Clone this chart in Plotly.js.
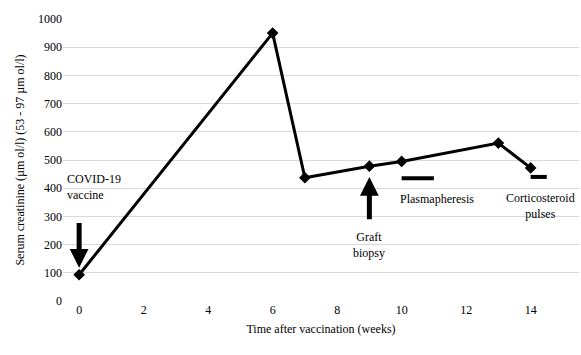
<!DOCTYPE html>
<html><head><meta charset="utf-8">
<script src="https://cdn.plot.ly/plotly-3.0.1.min.js"></script>
<style>body{margin:0;background:#fff}#c{width:581px;height:355px}</style>
</head><body><div id="c"></div>
<script>
const weeks = [0, 6, 7, 9, 10, 13, 14];
const creatinine = [93, 950, 437, 478, 495, 560, 472];
const xTicks = [0, 2, 4, 6, 8, 10, 12, 14];
const yTicks = [0, 100, 200, 300, 400, 500, 600, 700, 800, 900, 1000];

// event arrows: [x, tip y, tail y]
const arrowX = [0, 9];
const arrowTip = [118, 440];
const arrowTail = [282, 285];
// treatment bars
const barStart = [10, 14];
const barEnd = [11, 14.5];
const barY = [435, 440];
// labels
const labelText = ["COVID-19<br>vaccine", "Graft<br>biopsy", "Plasmapheresis", "Corticosteroid<br>pulses"];
const labelX = [-0.45, 9, 11.1, 14.3];
const labelY = [405, 197, 362, 337];

const font = {family: "Liberation Serif", size: 12, color: "#000"};

const annotations = [];
for (let i = 0; i < arrowX.length; i++) {
  annotations.push({x: arrowX[i], y: arrowTip[i], ax: arrowX[i], ay: arrowTail[i], axref: "x", ayref: "y",
    xref: "x", yref: "y", text: "", showarrow: true, arrowhead: 2, arrowsize: 0.75, arrowwidth: 5, arrowcolor: "#000"});
}
const anchors = ["left", "center", "center", "center"];
for (let i = 0; i < labelText.length; i++) {
  annotations.push({x: labelX[i], y: labelY[i], xref: "x", yref: "y", text: labelText[i], showarrow: false,
    xanchor: anchors[i], yanchor: "middle", align: anchors[i], font: font});
}
const shapes = barStart.map((s, i) => ({type: "line", xref: "x", yref: "y", x0: s, x1: barEnd[i], y0: barY[i], y1: barY[i],
  line: {color: "#000", width: 4}}));

Plotly.newPlot("c", [{
  x: weeks, y: creatinine, type: "scatter", mode: "lines+markers",
  line: {color: "#000", width: 3}, marker: {symbol: "diamond", size: 9, color: "#000"}
}], {
  width: 581, height: 355,
  margin: {l: 63, r: 2, t: 19, b: 54},
  paper_bgcolor: "#fff", plot_bgcolor: "#fff",
  font: font, showlegend: false,
  xaxis: {range: [-0.5, 15.5], tickvals: xTicks, showgrid: false, zeroline: false, showline: false,
    ticks: "", ticklen: 0, tickfont: font,
    title: {text: "Time after vaccination (weeks)", font: font, standoff: 8}},
  yaxis: {range: [0, 1000], tickvals: yTicks, showgrid: true, gridcolor: "#d9d9d9", gridwidth: 1,
    zeroline: false, showline: false, ticks: "", tickfont: font,
    title: {text: "Serum creatinine (µm ol/l) (53 - 97 µm ol/l)", font: font, standoff: 10}},
  annotations: annotations, shapes: shapes
}, {displayModeBar: false, staticPlot: true});
</script></body></html>
